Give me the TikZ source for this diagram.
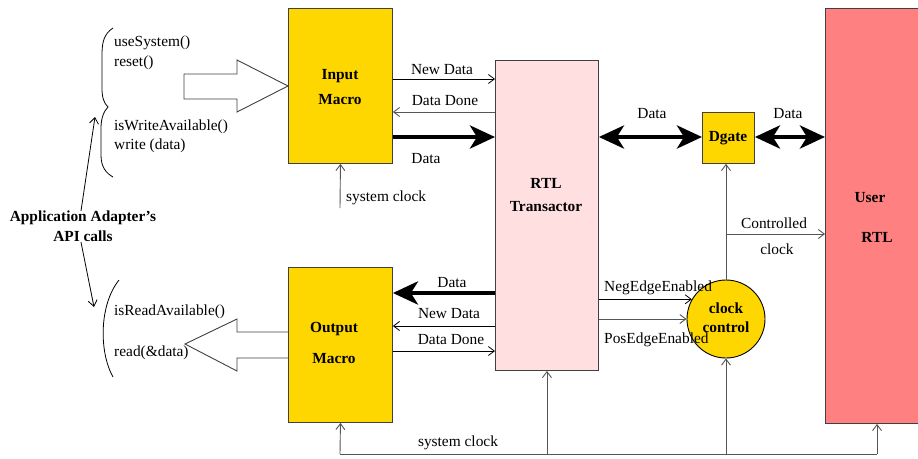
\documentclass[tikz,border=0pt]{standalone}
\usepackage{fontspec}
\setmainfont{Liberation Serif}
\usetikzlibrary{arrows.meta}
\definecolor{gold}{HTML}{FFD700}
\definecolor{pinkfill}{HTML}{FFDFE0}
\definecolor{userred}{HTML}{FF8080}
\definecolor{edgecol}{HTML}{404040}
\definecolor{wire}{HTML}{555555}
\begin{document}
\begin{tikzpicture}[x=1pt,y=-1pt,
  every node/.style={font=\fontsize{15.4}{18}\selectfont, inner sep=0pt},
  box/.style={draw=edgecol, line width=0.9pt, anchor=north west, inner sep=0pt},
  blbl/.style={font=\fontsize{15.4}{18}\selectfont\bfseries, align=center},
  wa/.style={draw=wire, line width=0.9pt, -{Straight Barb[length=6pt,width=9pt]}},
  ba/.style={draw=black, line width=0.8pt, -{Straight Barb[length=6pt,width=9pt]}},
  wl/.style={draw=wire, line width=0.9pt},
  fat/.style={line width=4.5pt, -{Stealth[length=25pt,width=23pt,inset=7pt]}},
  fatboth/.style={line width=4.5pt, {Stealth[length=25pt,width=23pt,inset=7pt]}-{Stealth[length=25pt,width=23pt,inset=7pt]}},
  hollow/.style={draw=edgecol, line width=0.9pt, fill=white},
]
\useasboundingbox (0,0) rectangle (918,458);

% hollow API arrows
\draw[hollow] (184,74) -- (237,74) -- (237,60) -- (288,86) -- (237,112) -- (237,99) -- (184,99) -- cycle;
\draw[hollow] (288,332) -- (237,332) -- (237,319) -- (185,344) -- (237,371) -- (237,358) -- (288,358);

% boxes
\node[box, fill=gold, minimum width=104pt, minimum height=155pt] (im) at (288,8) {};
\node[box, fill=gold, minimum width=104pt, minimum height=155pt] (om) at (288,267) {};
\node[box, fill=pinkfill, minimum width=103pt, minimum height=310pt] (rtl) at (495,60) {};
\node[box, fill=gold, minimum width=52pt, minimum height=51pt] (dg) at (702,112) {};
\node[box, fill=userred, minimum width=100pt, minimum height=415pt] (user) at (825,8) {};
\node[draw=black, line width=0.9pt, fill=gold, circle, minimum size=78pt, inner sep=0pt] (cc) at (726,319) {};

% box texts
\node[blbl] (imt) at (340,87.5) {Input\\[7pt]Macro};
\node[blbl] (omt) at (334,342.5) {Output\\[13pt]Macro};
\node[blbl] (rtlt) at (546,195.5) {RTL\\[5pt]Transactor};
\node[blbl] (dgt) at (728,138) {Dgate};
\node[blbl] (cct) at (726,317.5) {clock\\[1pt]control};
\node[blbl] (usert1) at (870,198) {User};
\node[blbl] (usert2) at (877,237) {RTL};

% Input macro connections
\draw[ba] (im.east |- 0,79) -- (rtl.west |- 0,79);
\draw[wa] (rtl.west |- 0,112) -- (im.east |- 0,112);
\draw[fat] (im.east |- 0,137) -- (rtl.west |- 0,137);
\coordinate (sclk) at (340,208);
\draw[wa] (sclk) -- (im.south);
\node (l1) at (442,70) {New Data};
\node (l2) at (445,101) {Data Done};
\node (l3) at (426,159) {Data};
\node[anchor=west] (l4) at (346,198) {system clock};

% Output macro connections
\draw[fat] (rtl.west |- 0,293) -- (om.east |- 0,293);
\draw[ba] (rtl.west |- 0,326) -- (om.east |- 0,326);
\draw[ba] (om.east |- 0,351) -- (rtl.west |- 0,351);
\node (l5) at (452,283) {Data};
\node (l6) at (449,314) {New Data};
\node (l7) at (451,340) {Data Done};

% system clock bus
\coordinate (bus1) at (340,454);
\coordinate (bus4) at (877,454);
\draw[wl] (bus1) -- (bus4);
\draw[wa] (bus1) -- (om.south);
\draw[wa] (rtl.south |- bus1) -- (rtl.south);
\draw[wa] (cc.south |- bus1) -- (cc.south);
\draw[wa] (bus4) -- (bus4 |- user.south);
\node (l8) at (458,443) {system clock};

% data path to user
\draw[fatboth] (rtl.east |- 0,137) -- (dg.west |- 0,137);
\draw[fatboth] (dg.east |- 0,137) -- (user.west |- 0,137);
\node (l9) at (652,114) {Data};
\node (l10) at (788,114) {Data};

% clock control
\draw[wa] (cc.north) -- (cc.north |- dg.south);
\draw[wa] (cc.north |- 0,234) -- (user.west |- 0,234);
\node (l11) at (774,223) {Controlled};
\node (l12) at (777,249) {clock};
\draw[ba] (rtl.east |- cc.150) -- (cc.150);
\draw[wa] (rtl.east |- 0,319) -- (cc.west);
\node[anchor=west] (l13) at (604,288) {NegEdgeEnabled};
\node[anchor=west] (l14) at (604,340) {PosEdgeEnabled};

% API calls
\node (t1) [anchor=west] at (114,43) {useSystem()};
\node (t2) [anchor=west] at (114,63) {reset()};
\node (t3) [anchor=west] at (114,127) {isWriteAvailable()};
\node (t4) [anchor=west] at (114,146) {write (data)};
\node (t5) [anchor=west] at (114,312) {isReadAvailable()};
\node (t6) [anchor=west] at (114,353) {read(\&data)};

\draw[black, line width=0.8pt] (113,28) .. controls (104,34) and (102,42) .. (102,55) -- (102,88)
  .. controls (102,98) and (104,103) .. (108,107)
  .. controls (104,111) and (101,118) .. (101,128) -- (101,155)
  .. controls (101,167) and (106,173) .. (113,177);
\draw[black, line width=0.8pt] (119,280) .. controls (99,305) and (99,352) .. (113,377);

\node[blbl] (api) at (83,226.5) {Application Adapter’s\\[2pt]API calls};
\coordinate (b1tip) at (95,117);
\coordinate (b2tip) at (94,307);
\draw[ba] ([xshift=-2pt]api.north) -- (b1tip);
\draw[ba] ([xshift=-2pt]api.south) -- (b2tip);
\end{tikzpicture}
\end{document}
